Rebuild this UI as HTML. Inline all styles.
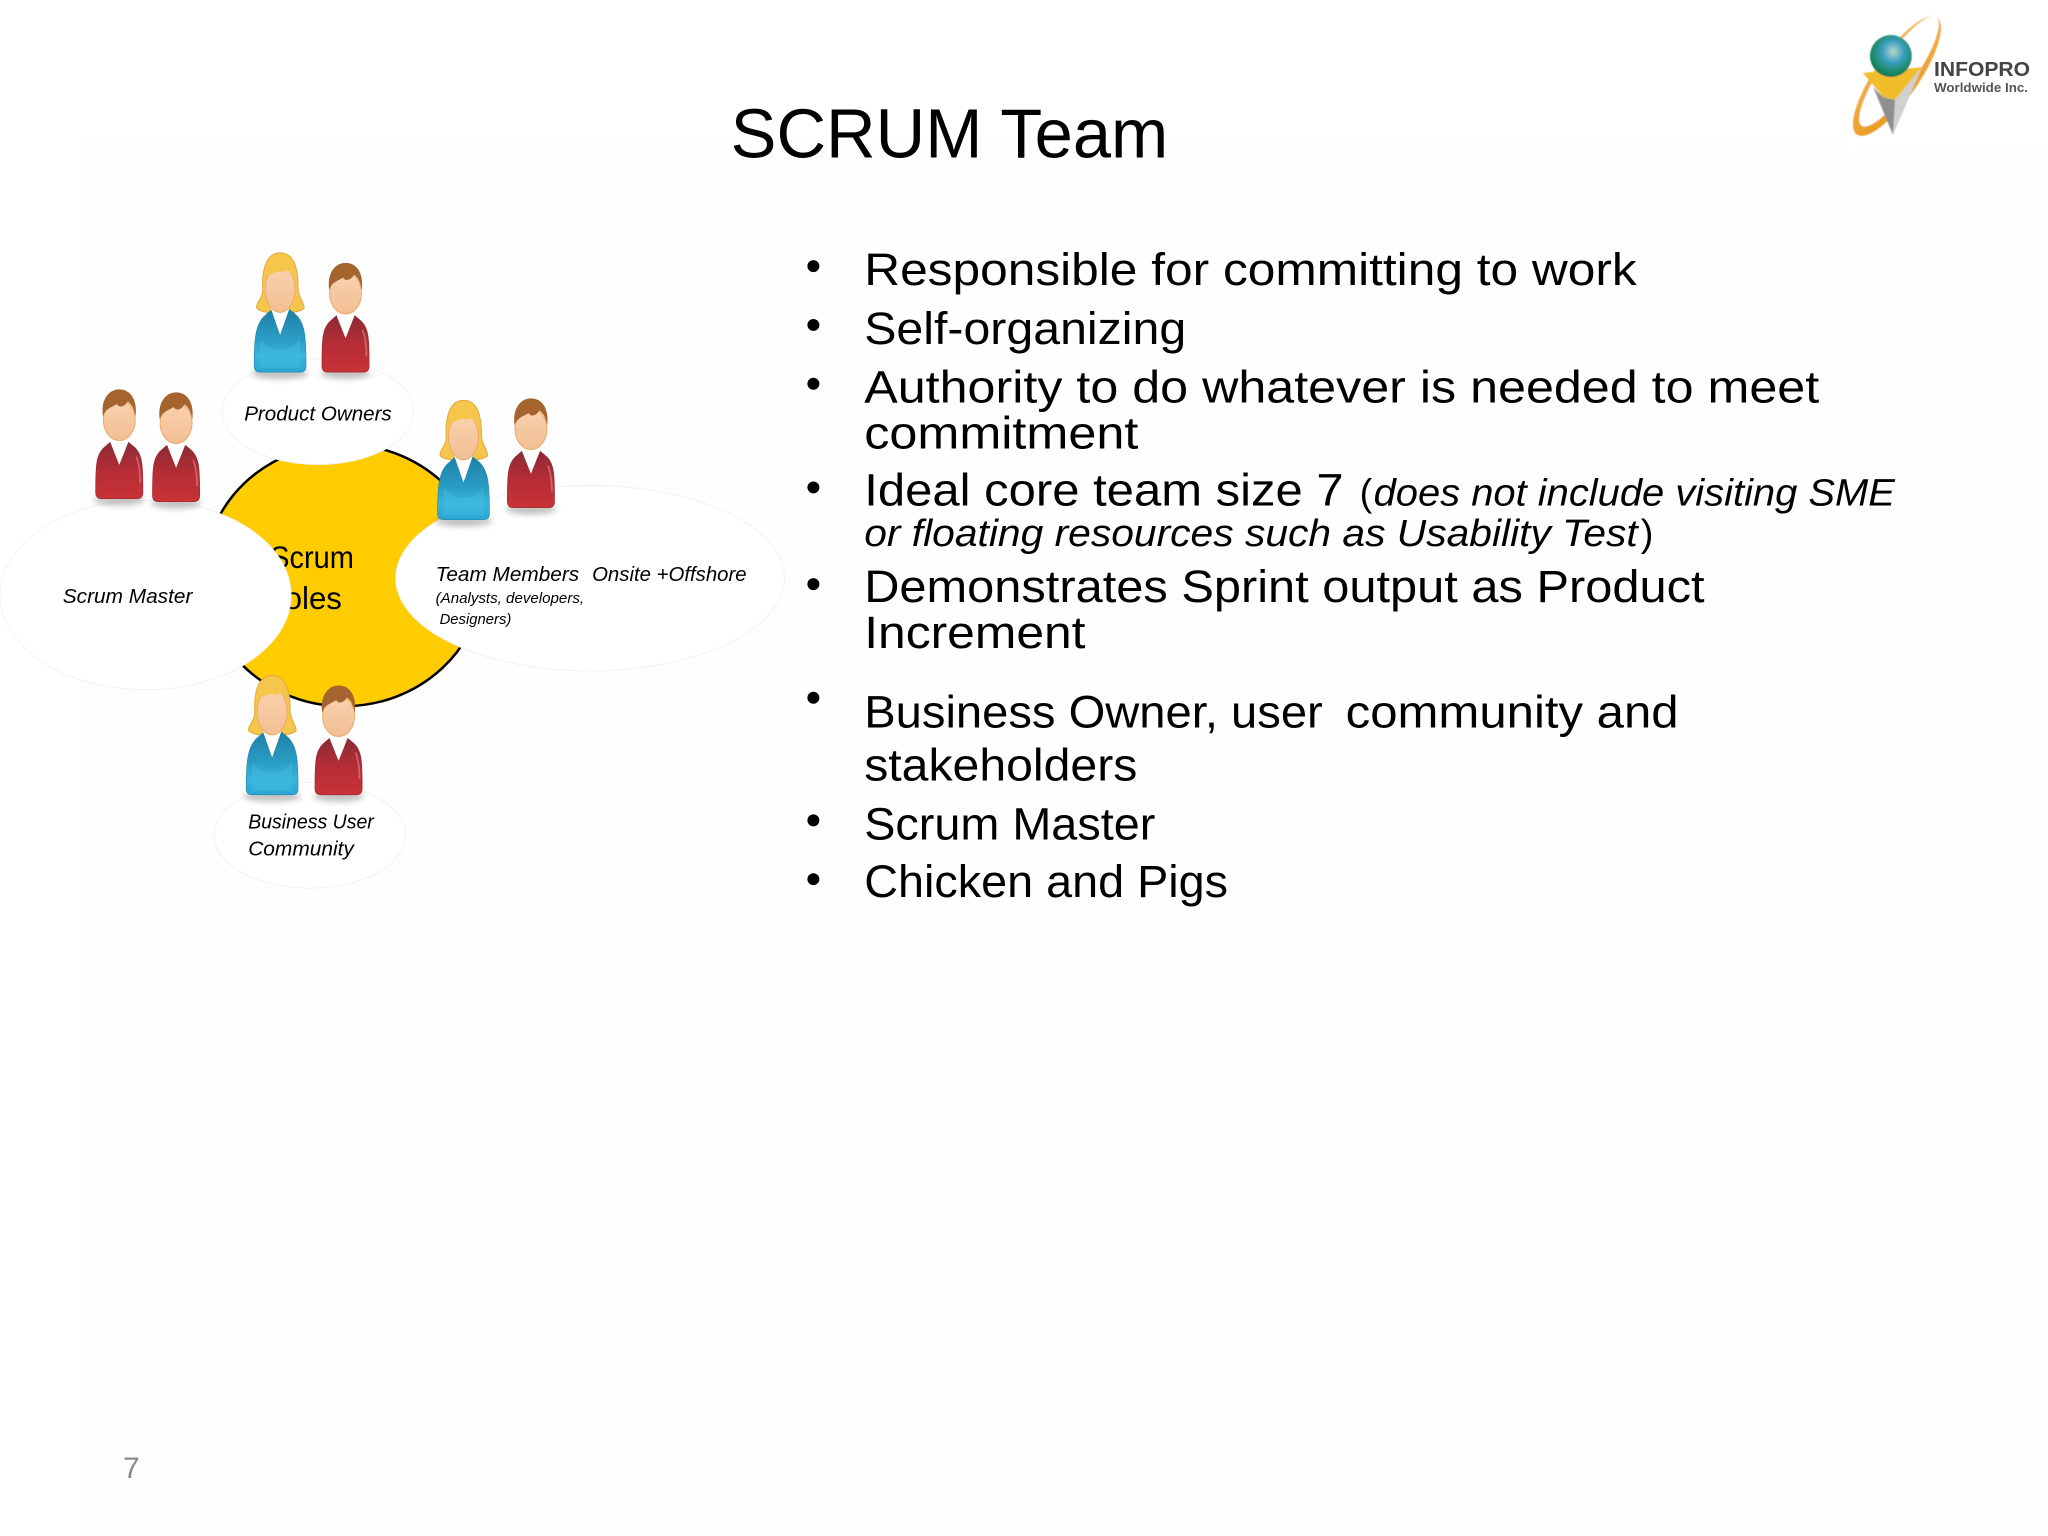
<!DOCTYPE html>
<html><head><meta charset="utf-8"><title>SCRUM Team</title>
<style>html,body{margin:0;padding:0;background:#fff}svg{display:block}
text{font-family:"Liberation Sans",sans-serif;fill:#000}
.i{font-style:italic}</style></head><body>
<svg xmlns="http://www.w3.org/2000/svg" width="2048" height="1536" viewBox="0 0 2048 1536">
<defs>
<linearGradient id="bl" x1="0" y1="0" x2="0" y2="1"><stop offset="0" stop-color="#1f7fa6"/><stop offset=".5" stop-color="#2a9ec6"/><stop offset=".75" stop-color="#3ab4dc"/><stop offset="1" stop-color="#2ba6d2"/></linearGradient>
<linearGradient id="rd" x1="0" y1="0" x2="0" y2="1"><stop offset="0" stop-color="#8a2b35"/><stop offset=".5" stop-color="#b52d36"/><stop offset="1" stop-color="#c93237"/></linearGradient>
<linearGradient id="fc" x1="0" y1="0" x2="0" y2="1"><stop offset="0" stop-color="#f9d2ae"/><stop offset="1" stop-color="#f3bf93"/></linearGradient>
<linearGradient id="ogl" x1="0" y1="1" x2="1" y2="0"><stop offset="0" stop-color="#e8981e"/><stop offset="1" stop-color="#f3b95a"/></linearGradient>
<radialGradient id="gb" cx=".55" cy=".4" r=".65"><stop offset="0" stop-color="#b8d8c8"/><stop offset=".4" stop-color="#3a9ec0"/><stop offset=".75" stop-color="#1c8a66"/><stop offset="1" stop-color="#0d6c52"/></radialGradient>
<filter id="bs" x="-30%" y="-100%" width="160%" height="300%"><feGaussianBlur stdDeviation="9"/></filter>
<filter id="b1"><feGaussianBlur stdDeviation=".5"/></filter>
<g id="f">
<ellipse cx="150" cy="402" rx="86" ry="16" fill="#999" opacity=".6" filter="url(#bs)"/>
<path d="M150 38C100 38 95 110 98 150C98 175 75 190 80 205C100 225 200 225 222 205C225 190 203 170 204 140C204 90 195 38 150 38Z" fill="#f6c64c" stroke="#e3a83a" stroke-width="3"/>
<path d="M72 378C72 295 76 248 108 224L125 208L150 285L178 208L195 222C226 248 228 295 228 378Q228 397 210 397L90 397Q72 397 72 378Z" fill="url(#bl)" stroke="#2789ad" stroke-width="2"/>
<path d="M90 300Q150 365 210 300L210 385L90 385Z" fill="#45bde2" opacity=".45"/>
<path d="M122 205L178 205L150 285Z" fill="#fff"/>
<ellipse cx="150" cy="147" rx="45" ry="70" fill="url(#fc)" stroke="#eaa96a" stroke-width="3"/>
<path d="M104 108C108 50 192 45 198 120C182 96 172 84 160 98C148 86 128 102 104 108Z" fill="#f6c64c"/>
</g>
<g id="m">
<ellipse cx="347" cy="402" rx="76" ry="16" fill="#999" opacity=".6" filter="url(#bs)"/>
<path d="M276 378C276 300 276 262 305 240L322 225L347 295L372 225L390 240C418 262 418 300 418 378Q418 397 400 397L294 397Q276 397 276 378Z" fill="url(#rd)" stroke="#9a2a33" stroke-width="2"/>
<path d="M398 270Q410 300 410 350" fill="none" stroke="#e58a8a" stroke-width="5" opacity=".6"/>
<path d="M318 222L376 222L347 295Z" fill="#fff"/>
<ellipse cx="347" cy="160" rx="48" ry="62" fill="url(#fc)" stroke="#eaa96a" stroke-width="3"/>
<path d="M298 150C290 100 315 68 347 68C382 68 402 100 396 150C392 128 385 112 372 104C365 120 345 125 340 112C325 122 305 125 298 150Z" fill="#a5642e"/>
</g>
</defs>
<rect width="2048" height="1536" fill="#fff"/>
<rect x="80" y="140" width="1968" height="1396" fill="#fefefe"/>

<!-- Logo -->
<rect x="1850" y="0" width="198" height="150" fill="#fff"/>
<g filter="url(#b1)">
<g transform="translate(1897,76) rotate(-55.6)">
<ellipse cx="0" cy="0" rx="71" ry="22" fill="url(#ogl)"/>
<ellipse cx="5" cy="-1" rx="66" ry="17" fill="#fff"/>
</g>
<path d="M1863 73L1922 67L1895 100L1883 97Z" fill="#f2bd2c"/>
<path d="M1873 87L1883 97L1895 100L1893 135Z" fill="#8f8f8f"/>
<path d="M1895 100L1922 67L1893 135Z" fill="#d0d0d0"/>
<circle cx="1891" cy="56" r="21" fill="url(#gb)"/>
</g>
<text x="1934" y="76" font-size="20.5" textLength="96" lengthAdjust="spacingAndGlyphs" style="fill:#444;font-weight:bold">INFOPRO</text>
<text x="1934" y="92" font-size="12.5" textLength="94" lengthAdjust="spacingAndGlyphs" style="fill:#555;font-weight:bold">Worldwide Inc.</text>

<g transform="scale(.9968)">
<!-- Title -->
<text x="733" y="158" font-size="70" textLength="439" lengthAdjust="spacingAndGlyphs">SCRUM Team</text>

<!-- Diagram -->
<ellipse cx="345" cy="577" rx="140" ry="131.5" fill="#ffcc00" stroke="#000" stroke-width="2.5"/>
<text x="271" y="570" font-size="32" textLength="84" lengthAdjust="spacingAndGlyphs">Scrum</text>
<text x="263" y="611" font-size="32" textLength="80" lengthAdjust="spacingAndGlyphs">Roles</text>
<ellipse cx="319" cy="413" rx="96" ry="53" fill="#fff" stroke="#f2f2f2"/>
<ellipse cx="146" cy="597" rx="146" ry="95" fill="#fff" stroke="#f2f2f2"/>
<ellipse cx="592" cy="580" rx="195" ry="93" fill="#fff" stroke="#f2f2f2"/>
<ellipse cx="311" cy="838" rx="96" ry="53" fill="#fff" stroke="#f2f2f2"/>

<g transform="translate(231,241) scale(.3333)"><use href="#f"/><use href="#m"/></g>
<g transform="translate(4,368) scale(.3333)"><use href="#m"/></g>
<g transform="translate(61,371) scale(.3333)"><use href="#m"/></g>
<g transform="translate(415,389) scale(.3333)"><use href="#f"/></g>
<g transform="translate(417,377) scale(.3333)"><use href="#m"/></g>
<g transform="translate(223,665) scale(.3333)"><use href="#f"/></g>
<g transform="translate(224,665) scale(.3333)"><use href="#m"/></g>

<g class="i" font-size="20">
<text x="245" y="422" textLength="148" lengthAdjust="spacingAndGlyphs">Product Owners</text>
<text x="63" y="605" textLength="130" lengthAdjust="spacingAndGlyphs">Scrum Master</text>
<text x="437" y="583" textLength="144" lengthAdjust="spacingAndGlyphs">Team Members</text>
<text x="594" y="583" textLength="155" lengthAdjust="spacingAndGlyphs">Onsite +Offshore</text>
<text x="437" y="605" font-size="15" textLength="149" lengthAdjust="spacingAndGlyphs">(Analysts, developers,</text>
<text x="441" y="626" font-size="15" textLength="72" lengthAdjust="spacingAndGlyphs">Designers)</text>
<text x="249" y="831" textLength="126" lengthAdjust="spacingAndGlyphs">Business User</text>
<text x="249" y="858" textLength="106" lengthAdjust="spacingAndGlyphs">Community</text>
</g>

<!-- Bullets -->
<g fill="#000">
<circle cx="816" cy="267" r="6"/><circle cx="816" cy="326" r="6"/><circle cx="816" cy="385" r="6"/>
<circle cx="816" cy="489" r="6"/><circle cx="816" cy="586" r="6"/><circle cx="816" cy="700" r="6"/>
<circle cx="816" cy="823" r="6"/><circle cx="816" cy="882" r="6"/>
</g>
<g font-size="46">
<text x="867" y="286" textLength="775" lengthAdjust="spacingAndGlyphs">Responsible for committing to work</text>
<text x="867" y="345" textLength="323" lengthAdjust="spacingAndGlyphs">Self-organizing</text>
<text x="867" y="404" textLength="958" lengthAdjust="spacingAndGlyphs">Authority to do whatever is needed to meet</text>
<text x="867" y="450" textLength="275" lengthAdjust="spacingAndGlyphs">commitment</text>
<text x="867" y="507" textLength="481" lengthAdjust="spacingAndGlyphs">Ideal core team size 7</text>
<text x="1364" y="507" font-size="38">(</text>
<text class="i" x="1378" y="507" font-size="38" textLength="523" lengthAdjust="spacingAndGlyphs">does not include visiting SME</text>
<text class="i" x="867" y="548" font-size="38" textLength="776" lengthAdjust="spacingAndGlyphs">or floating resources such as Usability Test</text>
<text x="1646" y="548" font-size="38">)</text>
<text x="867" y="604" textLength="843" lengthAdjust="spacingAndGlyphs">Demonstrates Sprint output as Product</text>
<text x="867" y="650" textLength="222" lengthAdjust="spacingAndGlyphs">Increment</text>
<text x="867" y="730" textLength="460" lengthAdjust="spacingAndGlyphs">Business Owner, user</text>
<text x="1350" y="730" textLength="334" lengthAdjust="spacingAndGlyphs">community and</text>
<text x="867" y="783" textLength="274" lengthAdjust="spacingAndGlyphs">stakeholders</text>
<text x="867" y="842" textLength="292" lengthAdjust="spacingAndGlyphs">Scrum Master</text>
<text x="867" y="900" textLength="365" lengthAdjust="spacingAndGlyphs">Chicken and Pigs</text>
</g>
</g>
<text x="123" y="1478" font-size="30" style="fill:#8a8a8a">7</text>
</svg>
</body></html>
